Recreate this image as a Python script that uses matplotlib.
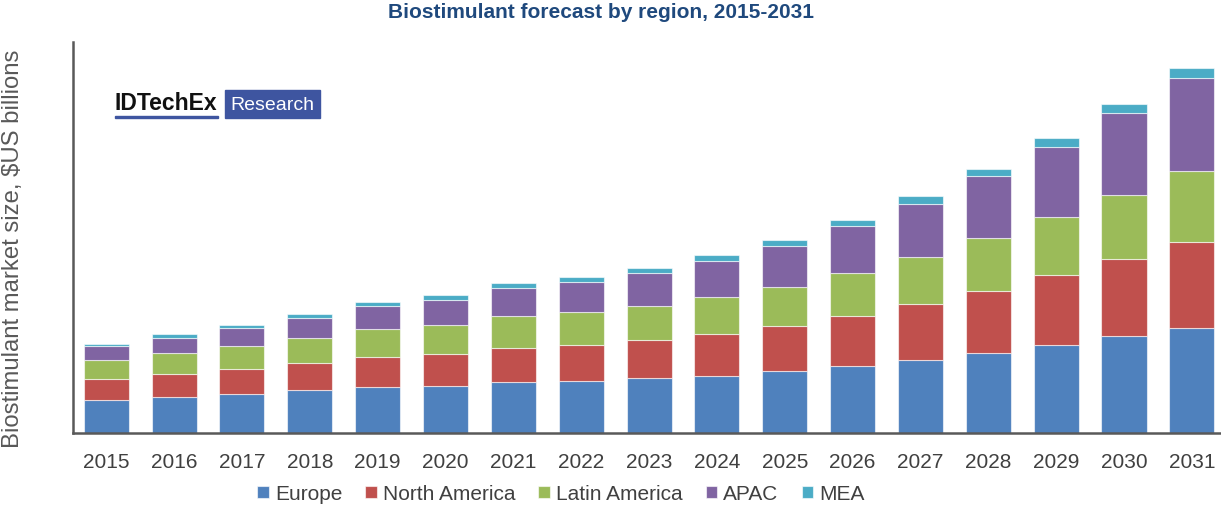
import matplotlib
matplotlib.use("Agg")
import matplotlib.pyplot as plt
import numpy as np
from matplotlib.patches import Rectangle

years = ["2015", "2016", "2017", "2018", "2019", "2020", "2021", "2022", "2023",
         "2024", "2025", "2026", "2027", "2028", "2029", "2030", "2031"]
europe = [0.83, 0.91, 0.98, 1.07, 1.14, 1.18, 1.26, 1.30, 1.36, 1.43, 1.54, 1.67, 1.82, 1.99, 2.20, 2.41, 2.62]
north_america = [0.51, 0.55, 0.62, 0.67, 0.75, 0.79, 0.87, 0.90, 0.95, 1.03, 1.13, 1.25, 1.39, 1.55, 1.73, 1.93, 2.15]
latin_america = [0.49, 0.54, 0.58, 0.64, 0.70, 0.73, 0.78, 0.82, 0.86, 0.92, 0.98, 1.07, 1.19, 1.32, 1.45, 1.60, 1.76]
apac = [0.33, 0.38, 0.43, 0.49, 0.57, 0.62, 0.70, 0.74, 0.82, 0.91, 1.01, 1.16, 1.32, 1.54, 1.76, 2.03, 2.32]
mea = [0.07, 0.08, 0.09, 0.10, 0.11, 0.11, 0.12, 0.12, 0.13, 0.14, 0.15, 0.16, 0.18, 0.18, 0.21, 0.24, 0.25]

series = [("Europe", europe, "#4F81BD"),
          ("North America", north_america, "#C0504D"),
          ("Latin America", latin_america, "#9BBB59"),
          ("APAC", apac, "#8064A2"),
          ("MEA", mea, "#4BACC6")]

plt.rcParams['font.family'] = ['Liberation Sans', 'DejaVu Sans']

fig = plt.figure(figsize=(12.21, 5.06), dpi=100)
ax = fig.add_axes([73 / 1221, 72 / 506, 1 - 73 / 1221, 391 / 506])

x = np.arange(len(years))
bottom = np.zeros(len(years))
for name, vals, col in series:
    v = np.array(vals)
    ax.bar(x, v, width=0.664, bottom=bottom, color=col, label=name,
           edgecolor=(1, 1, 1, 0.6), linewidth=0.8)
    bottom += v

ax.set_xlim(-0.49, 16.43)
ax.set_ylim(0, 9.75)
ax.set_xticks(x)
ax.set_xticklabels(years, fontsize=15, color="#404040")
ax.tick_params(axis='x', length=0, pad=14)
ax.set_yticks([])
for s in ["top", "right"]:
    ax.spines[s].set_visible(False)
for s in ["left", "bottom"]:
    ax.spines[s].set_color("#595959")
    ax.spines[s].set_linewidth(1.8)

fig.text(13 / 1221, 1 - 249 / 506, "Biostimulant market size, $US billions",
         rotation=90, fontsize=17.2, color="#595959", ha="center", va="center")

fig.text(601 / 1221, 1 - 12 / 506, "Biostimulant forecast by region, 2015-2031",
         fontsize=15, fontweight="bold", color="#1F497D", ha="center", va="center")

# logo
fig.text(114 / 1221, 1 - 104 / 506, "IDTechEx", fontsize=16.5, color="#111111",
         ha="left", va="center", fontweight="semibold")
fig.patches.append(Rectangle((115 / 1221, 1 - 119 / 506), 103 / 1221, 2 / 506,
                             transform=fig.transFigure, color="#3E55A0", zorder=3))
fig.patches.append(Rectangle((225 / 1221, 1 - 119 / 506), 95 / 1221, 28 / 506,
                             transform=fig.transFigure, color="#3E55A0", zorder=3))
fig.text(272 / 1221, 1 - 105 / 506, "Research", fontsize=14, color="white",
         ha="center", va="center", zorder=4)

handles, labels = ax.get_legend_handles_labels()
leg = fig.legend(handles, labels, loc="center", bbox_to_anchor=(561 / 1221, 11 / 506),
                 ncol=5, frameon=False, fontsize=15, handlelength=0.55, handleheight=0.55,
                 handletextpad=0.3, columnspacing=1.1, borderaxespad=0, borderpad=0)
for t in leg.get_texts():
    t.set_color("#404040")

fig.savefig("out.png", dpi=100)
